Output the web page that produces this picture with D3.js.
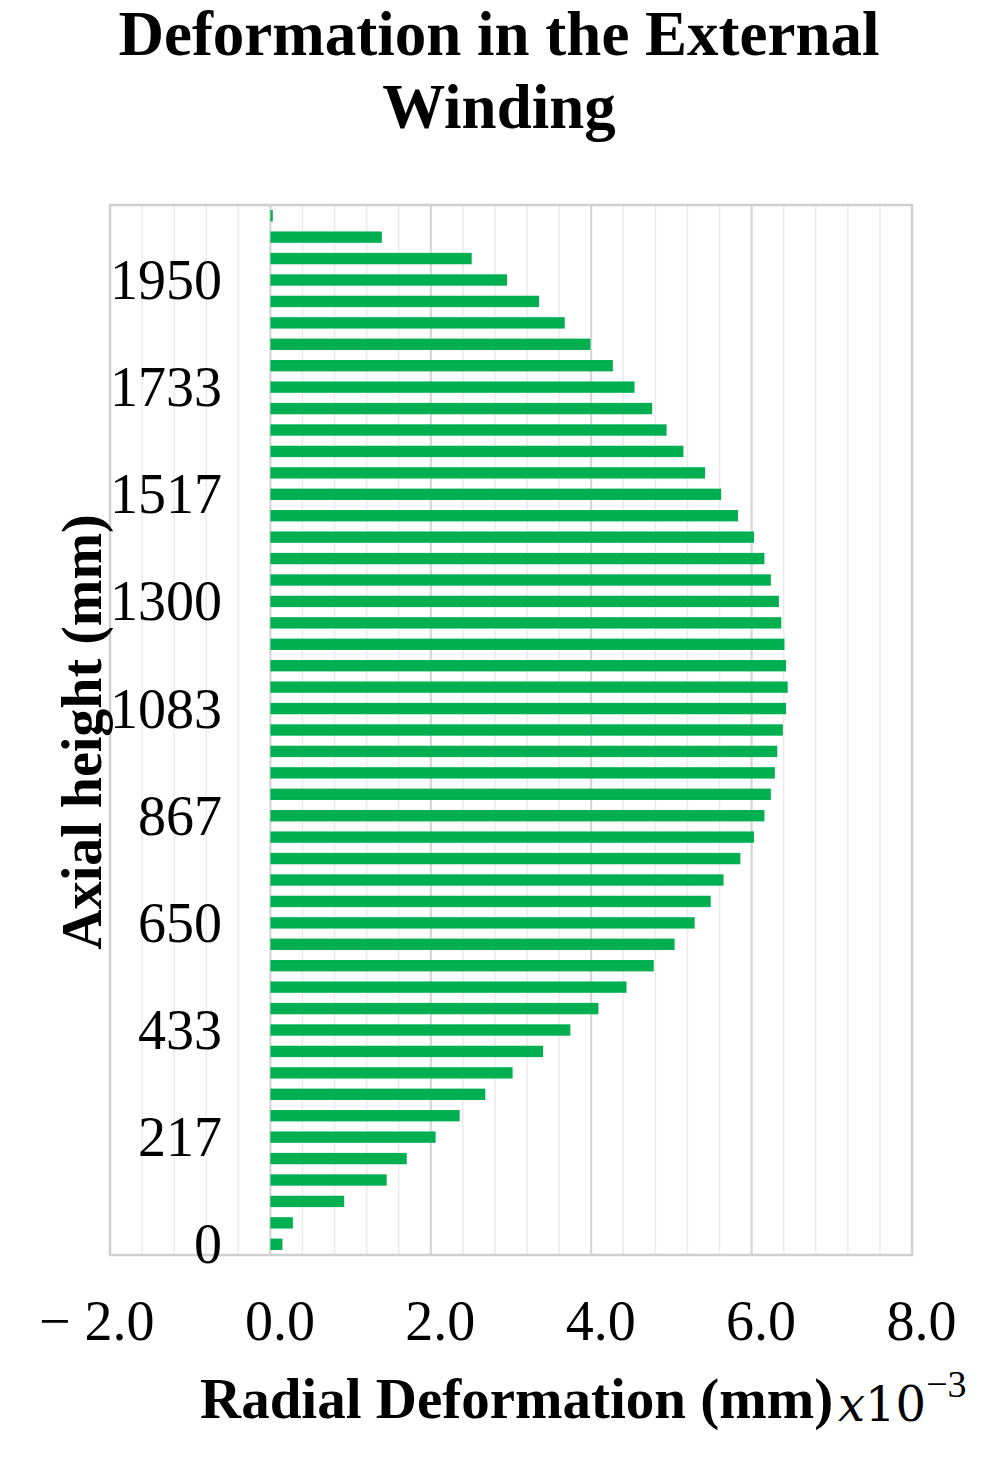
<!DOCTYPE html>
<html>
<head>
<meta charset="utf-8">
<script src="https://cdn.jsdelivr.net/npm/d3@7"></script>
<style>
  html, body { margin: 0; padding: 0; background: #ffffff; }
  svg { display: block; }
  text { font-family: "Liberation Serif", "Times New Roman", serif; fill: #000; }
</style>
</head>
<body>
<div id="chart"></div>
<script>
// ---------------- DATA ----------------
// Axial height categories (mm), bottom to top
const heights = [0, 43, 87, 130, 173, 217, 260, 303, 347, 390, 433, 477, 520, 563, 607,
  650, 693, 737, 780, 823, 867, 910, 953, 997, 1040, 1083, 1127, 1170, 1213, 1257,
  1300, 1343, 1387, 1430, 1473, 1517, 1560, 1603, 1647, 1690, 1733, 1777, 1820, 1863,
  1907, 1950, 1993, 2037, 2080];
// Radial deformation (mm, x10^-3), bottom to top
const deformation = [0.15, 0.28, 0.92, 1.45, 1.70, 2.06, 2.36, 2.68, 3.02, 3.40,
  3.74, 4.09, 4.44, 4.78, 5.04, 5.29, 5.49, 5.65, 5.86, 6.03,
  6.16, 6.24, 6.29, 6.32, 6.39, 6.43, 6.45, 6.43, 6.41, 6.37,
  6.34, 6.24, 6.16, 6.03, 5.83, 5.62, 5.42, 5.15, 4.94, 4.76,
  4.54, 4.27, 3.99, 3.67, 3.35, 2.95, 2.51, 1.39, 0.03];
// Tick labels
const yTickValues = [0, 217, 433, 650, 867, 1083, 1300, 1517, 1733, 1950];
const xTickValues = [-2, 0, 2, 4, 6, 8];
const xTickLabels = ["\u2212 2.0", "0.0", "2.0", "4.0", "6.0", "8.0"];
const titleLines = ["Deformation in the External", "Winding"];

// ---------------- LAYOUT ----------------
const W = 1005, H = 1476;
const plot = { left: 110, right: 912, top: 205, bottom: 1255 };

const svg = d3.select("#chart").append("svg")
  .attr("width", W).attr("height", H);

const x = d3.scaleLinear().domain([-2, 8]).range([plot.left, plot.right]);
const y = d3.scaleBand()
  .domain(heights.map(String))
  .range([plot.bottom, plot.top])
  .paddingInner(0.47)
  .paddingOuter(0.235);

// minor gridlines every 0.4
const minor = d3.range(-1.6, 8, 0.4).map(v => +v.toFixed(1));
svg.append("g").selectAll("line").data(minor).join("line")
  .attr("x1", d => x(d)).attr("x2", d => x(d))
  .attr("y1", plot.top).attr("y2", plot.bottom)
  .attr("stroke", "#ebebeb").attr("stroke-width", 1.5);

// major gridlines
svg.append("g").selectAll("line").data([0, 2, 4, 6]).join("line")
  .attr("x1", d => x(d)).attr("x2", d => x(d))
  .attr("y1", plot.top).attr("y2", plot.bottom)
  .attr("stroke", "#d4d4d4").attr("stroke-width", 2);

// bars
svg.append("g").selectAll("rect").data(heights).join("rect")
  .attr("x", x(0))
  .attr("y", d => y(String(d)))
  .attr("height", y.bandwidth())
  .attr("width", (d, i) => Math.max(0, x(deformation[i]) - x(0)))
  .attr("fill", "#00b050");

// frame
svg.append("rect")
  .attr("x", plot.left).attr("y", plot.top)
  .attr("width", plot.right - plot.left).attr("height", plot.bottom - plot.top)
  .attr("fill", "none").attr("stroke", "#d0d0d0").attr("stroke-width", 2.5);

// y axis (labels only)
const yAxis = d3.axisLeft(y)
  .tickValues(yTickValues.map(String))
  .tickSize(0).tickPadding(0);
const gy = svg.append("g").attr("transform", `translate(${222},0)`).call(yAxis);
gy.select(".domain").remove();
gy.selectAll("text")
  .style("font-family", "'Liberation Serif', serif")
  .attr("font-size", 56)
  .attr("fill", "#000")
  .attr("dy", "0.34em");

// x axis (labels only)
const xAxis = d3.axisBottom(x)
  .tickValues(xTickValues)
  .tickFormat((d, i) => xTickLabels[i])
  .tickSize(0).tickPadding(0);
const gx = svg.append("g").attr("transform", `translate(0,${1340})`).call(xAxis);
gx.select(".domain").remove();
gx.selectAll("text")
  .style("font-family", "'Liberation Serif', serif")
  .attr("font-size", 56)
  .attr("fill", "#000")
  .attr("text-anchor", "end")
  .attr("x", 44)
  .attr("dy", 0)
  .attr("y", 0);

// title
svg.append("g").selectAll("text").data(titleLines).join("text")
  .attr("x", 499)
  .attr("y", (d, i) => 55 + i * 73)
  .attr("text-anchor", "middle")
  .attr("font-size", 63)
  .attr("font-weight", "bold")
  .text(d => d);

// x axis title
svg.append("text")
  .attr("x", 200).attr("y", 1418)
  .attr("font-size", 57).attr("font-weight", "bold")
  .text("Radial Deformation (mm)");
const xm = svg.append("text")
  .attr("x", 838).attr("y", 1421)
  .style("font-family", "'DejaVu Serif', serif")
  .attr("font-size", 48);
xm.append("tspan").attr("font-style", "italic").text("x");
xm.append("tspan").text("10");
xm.append("tspan")
  .style("font-family", "'Liberation Serif', serif")
  .attr("font-size", 38).attr("dy", -24).text("\u22123");

// y axis title
svg.append("text")
  .attr("transform", `translate(101,732) rotate(-90)`)
  .attr("text-anchor", "middle")
  .attr("font-size", 56).attr("font-weight", "bold")
  .text("Axial height (mm)");
</script>
</body>
</html>
